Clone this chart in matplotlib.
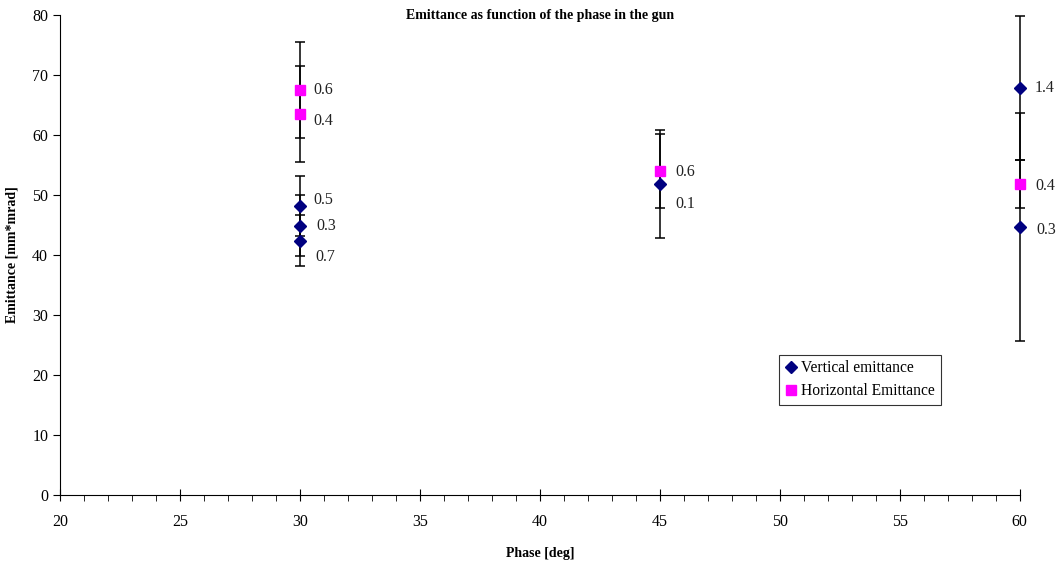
import matplotlib.pyplot as plt
from matplotlib.ticker import MultipleLocator

plt.rcParams['font.family'] = ['Liberation Serif', 'DejaVu Serif']

# Vertical emittance points
v_phase = [30, 30, 30, 45, 60, 60]
v_emit = [48.2, 44.9, 42.4, 51.8, 67.8, 44.7]
v_err = [5.0, 5.1, 4.3, 9.0, 12.0, 19.0]
v_labels = ["0.5", "0.3", "0.7", "0.1", "1.4", "0.3"]

# Horizontal emittance points
h_phase = [30, 30, 45, 60]
h_emit = [67.5, 63.5, 54.0, 51.9]
h_err = [8.0, 8.0, 6.2, 4.0]
h_labels = ["0.6", "0.4", "0.6", "0.4"]

# label offsets in points (layout only)
v_offsets = [(10, 4), (12, 0), (11, -12), (11, -14), (11, 0), (12, -2)]
h_offsets = [(10, 0), (10, -5), (11, -1), (11, -2)]

fig = plt.figure(figsize=(10.57, 5.67), dpi=100)
ax = fig.add_axes([0.0568, 0.127, 0.908, 0.8465])

for xs, ys, es in [(v_phase, v_emit, v_err), (h_phase, h_emit, h_err)]:
    eb = ax.errorbar(xs, ys, yerr=es, fmt='none', ecolor='black',
                     elinewidth=1.1, capsize=3.6, capthick=1.1, zorder=2)
    for art in eb.lines[1] + eb.lines[2]:
        art.set_clip_on(False)
ax.plot(v_phase, v_emit, linestyle='none', marker='D', markersize=6,
        color='#000080', label='Vertical emittance', zorder=3, clip_on=False)
ax.plot(h_phase, h_emit, linestyle='none', marker='s', markersize=6.5,
        color='#FF00FF', label='Horizontal Emittance', zorder=3, clip_on=False)

for x, y, t, off in zip(v_phase, v_emit, v_labels, v_offsets):
    ax.annotate(t, (x, y), xytext=off, textcoords='offset points',
                fontsize=11.5, va='center', ha='left', color='#222222')
for x, y, t, off in zip(h_phase, h_emit, h_labels, h_offsets):
    ax.annotate(t, (x, y), xytext=off, textcoords='offset points',
                fontsize=11.5, va='center', ha='left', color='#222222')

ax.set_xlim(20, 60)
ax.set_ylim(0, 80)
ax.xaxis.set_major_locator(MultipleLocator(5))
ax.xaxis.set_minor_locator(MultipleLocator(1))
ax.yaxis.set_major_locator(MultipleLocator(10))
ax.tick_params(axis='x', which='major', direction='inout', length=8, labelsize=11.5, pad=10)
ax.tick_params(axis='x', which='minor', direction='out', length=4)
ax.tick_params(axis='y', which='major', direction='out', length=5, labelsize=11.5)
ax.spines['top'].set_visible(False)
ax.spines['right'].set_visible(False)

fig.text(0.511, 0.9735, 'Emittance as function of the phase in the gun',
         fontsize=10, fontweight='bold', ha='center', va='center')
ax.set_xlabel('Phase [deg]', fontsize=10, fontweight='bold', labelpad=12)
ax.set_ylabel('Emittance [mm*mrad]', fontsize=10, fontweight='bold', labelpad=10)

leg = ax.legend(loc='upper left', bbox_to_anchor=(0.749, 0.292), fontsize=11.2,
                frameon=True, fancybox=False, edgecolor='black',
                handletextpad=0.2, handlelength=0.9, borderpad=0.35,
                labelspacing=0.45, borderaxespad=0)
leg.get_frame().set_linewidth(0.8)

fig.savefig('out.png', dpi=100)
